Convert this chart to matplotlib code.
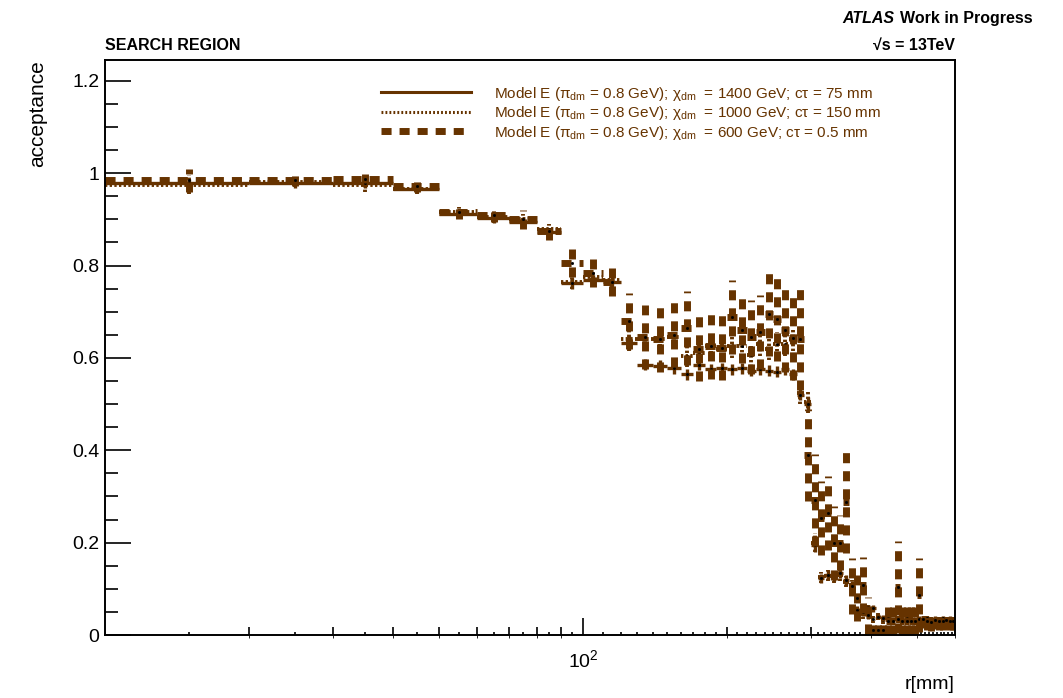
import numpy as np
import matplotlib
matplotlib.use("Agg")
import matplotlib.pyplot as plt
from matplotlib.lines import Line2D
from matplotlib.ticker import FixedLocator, NullFormatter

plt.rcParams['font.family'] = ['Liberation Sans', 'DejaVu Sans']
plt.rcParams['mathtext.fontset'] = 'custom'
plt.rcParams['mathtext.rm'] = 'Liberation Sans'
plt.rcParams['mathtext.it'] = 'Liberation Sans:italic'
plt.rcParams['mathtext.bf'] = 'Liberation Sans:bold'

# bins in r [mm]: 10 mm wide, from 10 to 600
bin_lo = list(range(10, 600, 10))

# Model E, chi_dm = 1400 GeV, ctau = 75 mm
acc_1400 = [0.978, 0.978, 0.978, 0.966, 0.912, 0.902, 0.895, 0.872, 0.762, 0.768,
            0.765, 0.632, 0.585, 0.583, 0.578, 0.565, 0.585, 0.575, 0.578, 0.575,
            0.578, 0.572, 0.575, 0.572, 0.570, 0.575, 0.565, 0.520, 0.500, 0.195,
            0.123, 0.130, 0.128, 0.134, 0.119, 0.106, 0.054, 0.050, 0.043, 0.058,
            0.040, 0.037, 0.036, 0.034, 0.035, 0.033, 0.036, 0.034, 0.033, 0.035,
            0.034, 0.036, 0.033, 0.035, 0.034, 0.036, 0.034, 0.035, 0.033]
err_1400 = [0.010, 0.010, 0.010, 0.010, 0.010, 0.010, 0.010, 0.010, 0.012, 0.012,
            0.012, 0.015, 0.012, 0.012, 0.012, 0.012, 0.012, 0.012, 0.012, 0.012,
            0.012, 0.012, 0.012, 0.012, 0.012, 0.012, 0.012, 0.012, 0.015, 0.015,
            0.010, 0.010, 0.010, 0.010, 0.010, 0.010, 0.008, 0.008, 0.008, 0.008,
            0.006, 0.006, 0.006, 0.006, 0.006, 0.006, 0.006, 0.006, 0.006, 0.006,
            0.006, 0.006, 0.006, 0.006, 0.006, 0.006, 0.006, 0.006, 0.006]

# Model E, chi_dm = 1000 GeV, ctau = 150 mm
acc_1000 = [0.975, 0.980, 0.975, 0.965, 0.915, 0.905, 0.900, 0.878, 0.765, 0.775,
            0.768, 0.640, 0.641, 0.641, 0.645, 0.605, 0.610, 0.625, 0.620, 0.625,
            0.626, 0.606, 0.630, 0.620, 0.630, 0.630, 0.640, 0.525, 0.505, 0.200,
            0.125, 0.128, 0.125, 0.130, 0.115, 0.108, 0.055, 0.045, 0.060, 0.035,
            0.040, 0.032, 0.036, 0.030, 0.034, 0.032, 0.030, 0.035, 0.030, 0.032,
            0.030, 0.033, 0.031, 0.030, 0.032, 0.031, 0.030, 0.032, 0.031]
err_1000 = [0.020, 0.010, 0.015, 0.010, 0.012, 0.012, 0.012, 0.012, 0.015, 0.015,
            0.015, 0.025, 0.025, 0.025, 0.025, 0.025, 0.025, 0.025, 0.025, 0.025,
            0.025, 0.025, 0.025, 0.025, 0.025, 0.025, 0.025, 0.025, 0.025, 0.020,
            0.012, 0.012, 0.012, 0.012, 0.012, 0.012, 0.010, 0.010, 0.010, 0.008,
            0.008, 0.008, 0.008, 0.008, 0.008, 0.008, 0.008, 0.008, 0.008, 0.008,
            0.008, 0.008, 0.008, 0.008, 0.008, 0.008, 0.008, 0.008, 0.008]

# Model E, chi_dm = 600 GeV, ctau = 0.5 mm
acc_600 = [0.985, 0.985, 0.988, 0.972, 0.915, 0.910, 0.900, 0.875, 0.806, 0.784,
           0.765, 0.680, 0.645, 0.640, 0.650, 0.665, 0.620, 0.625, 0.622, 0.689,
           0.660, 0.645, 0.656, 0.695, 0.684, 0.660, 0.643, 0.640, 0.390, 0.292,
           0.253, 0.264, 0.200, 0.200, 0.288, 0.106, 0.080, 0.108, 0.043, 0.010,
           0.010, 0.010, 0.030, 0.030, 0.104, 0.030, 0.030, 0.030, 0.030, 0.087,
           0.035, 0.030, 0.028, 0.032, 0.030, 0.030, 0.032, 0.030, 0.030]
err_600 = [0.025, 0.012, 0.010, 0.012, 0.015, 0.015, 0.020, 0.020, 0.030, 0.030,
           0.030, 0.060, 0.070, 0.070, 0.070, 0.080, 0.070, 0.070, 0.070, 0.080,
           0.070, 0.080, 0.080, 0.090, 0.090, 0.090, 0.090, 0.110, 0.100, 0.100,
           0.080, 0.080, 0.080, 0.060, 0.110, 0.060, 0.050, 0.060, 0.040, 0.030,
           0.030, 0.030, 0.030, 0.030, 0.100, 0.030, 0.030, 0.030, 0.030, 0.080,
           0.020, 0.020, 0.020, 0.020, 0.020, 0.020, 0.020, 0.020, 0.020]

labels = ["Model E (π$_{\\rm dm}$ = 0.8 GeV); χ$_{\\rm dm}$  = 1400 GeV; cτ = 75 mm",
          "Model E (π$_{\\rm dm}$ = 0.8 GeV); χ$_{\\rm dm}$  = 1000 GeV; cτ = 150 mm",
          "Model E (π$_{\\rm dm}$ = 0.8 GeV); χ$_{\\rm dm}$  = 600 GeV; cτ = 0.5 mm"]

brown = '#663300'

fig = plt.figure(figsize=(10.63, 6.98), dpi=100)
ax = fig.add_axes([105 / 1063, 63 / 698, 850 / 1063, 575 / 698])

lo = np.array(bin_lo, dtype=float)
hi = lo + 10
mid = lo + 5

styles = [
    (acc_1000, err_1000, (0, (0.6, 0.6)), 2.8),
    (acc_1400, err_1400, 'solid', 2.4),
    (acc_600, err_600, (0, (1.45, 1.15)), 5.0),
]
for vals, errs, ls, lw in styles:
    v = np.array(vals)
    e = np.array(errs)
    ax.hlines(v, lo, hi, colors=brown, linewidth=lw, linestyles=ls)
    ax.vlines(mid, np.clip(v - e, 0, None), v + e, colors=brown, linewidth=lw, linestyles=ls)
    ax.plot(mid, v, ls='none', marker='s', ms=1.0, color='black')

ax.set_xscale('log')
ax.set_xlim(10, 600)
ax.set_ylim(0, 1.245)

# x ticks (ROOT style)
ax.xaxis.set_major_locator(FixedLocator([20, 30, 40, 50, 60, 70, 80, 90, 200, 300, 400, 500]))
ax.xaxis.set_major_formatter(NullFormatter())
small = [15, 25, 35, 45, 55, 65, 75, 85, 95] + [r for r in range(110, 600, 10) if r % 100 != 0]
ax.xaxis.set_minor_locator(FixedLocator(small))
ax.xaxis.set_minor_formatter(NullFormatter())
ax.tick_params(axis='x', which='major', direction='in', length=6, width=1.2, top=False)
ax.tick_params(axis='x', which='minor', direction='in', length=2.5, width=1.2, top=False)

sec = ax.secondary_xaxis('bottom')
sec.set_xticks([100])
sec.set_xticklabels([r'$10^{2}$'])
sec.tick_params(direction='in', length=12, width=1.2, labelsize=14, pad=10)
sec.spines['bottom'].set_visible(False)

# y ticks
ax.set_yticks([0, 0.2, 0.4, 0.6, 0.8, 1.0, 1.2])
ax.set_yticklabels(['0', '0.2', '0.4', '0.6', '0.8', '1', '1.2'])
ax.yaxis.set_minor_locator(FixedLocator(np.arange(0, 1.25, 0.05)))
ax.tick_params(axis='y', which='major', direction='in', length=19, width=1.2, labelsize=14, pad=4, right=False)
ax.tick_params(axis='y', which='minor', direction='in', length=9, width=1.2, right=False)

for s in ax.spines.values():
    s.set_linewidth(1.4)

ax.set_ylabel('acceptance', fontsize=15, loc='top', labelpad=18)
ax.set_xlabel('r[mm]', fontsize=14, loc='right', labelpad=26)

handles = [Line2D([], [], color=brown, lw=2.2, ls='solid'),
           Line2D([], [], color=brown, lw=2.2, ls=(0, (0.6, 0.7))),
           Line2D([], [], color=brown, lw=5.0, ls=(0, (1.45, 1.15)))]
leg = ax.legend(handles, labels, loc='upper left', bbox_to_anchor=(0.325, 0.957),
                frameon=False, fontsize=11, handlelength=5.9, handletextpad=1.5,
                labelspacing=0.1, borderpad=0, borderaxespad=0)
for t in leg.get_texts():
    t.set_color(brown)

fig.text(105 / 1063, 1 - 50 / 698, 'SEARCH REGION', fontsize=11.5, fontweight='bold',
         ha='left', va='baseline')
fig.text(955 / 1063, 1 - 50 / 698, '√s = 13TeV', fontsize=11.5,
         fontweight='bold', ha='right', va='baseline')

wip = fig.text(1033 / 1063, 1 - 23 / 698, 'Work in Progress', fontsize=11.5,
               fontweight='bold', ha='right', va='baseline')
fig.canvas.draw()
bb = wip.get_window_extent()
fig.text((bb.x0 - 6) / fig.bbox.width, 1 - 23 / 698, 'ATLAS', fontsize=11.5,
         fontweight='bold', fontstyle='italic', ha='right', va='baseline')

fig.savefig('out.png', dpi=100)
